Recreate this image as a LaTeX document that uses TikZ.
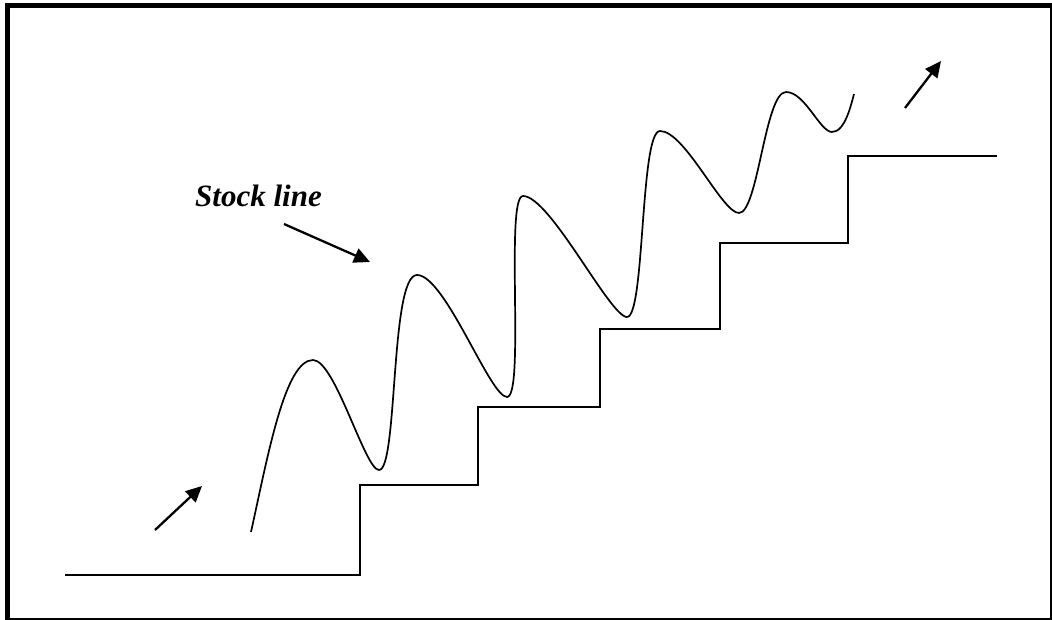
\documentclass[tikz,border=0pt]{standalone}
\usepackage{fontspec}
\setmainfont{Liberation Serif}
\usetikzlibrary{arrows.meta}
\begin{document}
\begin{tikzpicture}[x=1pt,y=-1pt,
  curve/.style={line width=1.7pt,line join=round},
  stair/.style={line width=1.7pt,line join=miter},
  pointer/.style={line width=2.3pt,-{Triangle[length=16pt,width=15pt]}},
  label/.style={font=\fontsize{31}{37}\selectfont\bfseries\itshape,inner sep=0pt}]
\useasboundingbox (0,0) rectangle (1052,620);
% frame
\draw[line width=5.3pt] (5.4,5.7) -- (1051.5,5.7);
\draw[line width=4.7pt] (7.7,3) -- (7.7,620);
\draw[line width=1.5pt] (1050.8,3) -- (1050.8,619.5);
\draw[line width=1.5pt] (5.4,619) -- (1051.5,619);
% staircase
\coordinate (s0) at (65,575);
\coordinate (s1) at (997,156);
\draw[stair] (s0) -- (360,575) -- (360,485) -- (478,485) -- (478,407)
  -- (600,407) -- (600,329) -- (720,329) -- (720,243) -- (848,243)
  -- (848,156) -- (s1);
% stock line
\coordinate (c0) at (251,532);
\coordinate (c1) at (854,94);
\draw[curve] (c0)
  .. controls (268,455) and (285,360) .. (313,360)
  .. controls (335,360) and (365,470) .. (379,470)
  .. controls (398,470) and (390,275) .. (417,275)
  .. controls (445,275) and (490,397) .. (507,397)
  .. controls (525,397) and (505,196) .. (523,196)
  .. controls (550,196) and (610,317) .. (627,317)
  .. controls (645,317) and (640,131) .. (660,131)
  .. controls (685,131) and (722,213) .. (739,213)
  .. controls (758,213) and (765,92) .. (786,92)
  .. controls (805,92) and (820,132) .. (832,132)
  .. controls (845,132) and (851,105) .. (c1);
% label and arrows
\node[label,anchor=base] (lbl) at (258.5,207) {Stock line};
\coordinate (a1s) at (284,224);
\coordinate (a1e) at (370,262);
\draw[pointer] (a1s) -- (a1e);
\coordinate (a2s) at (155,530);
\coordinate (a2e) at (202,486);
\draw[pointer] (a2s) -- (a2e);
\coordinate (a3s) at (905,108);
\coordinate (a3e) at (941,61);
\draw[pointer] (a3s) -- (a3e);
\end{tikzpicture}
\end{document}
